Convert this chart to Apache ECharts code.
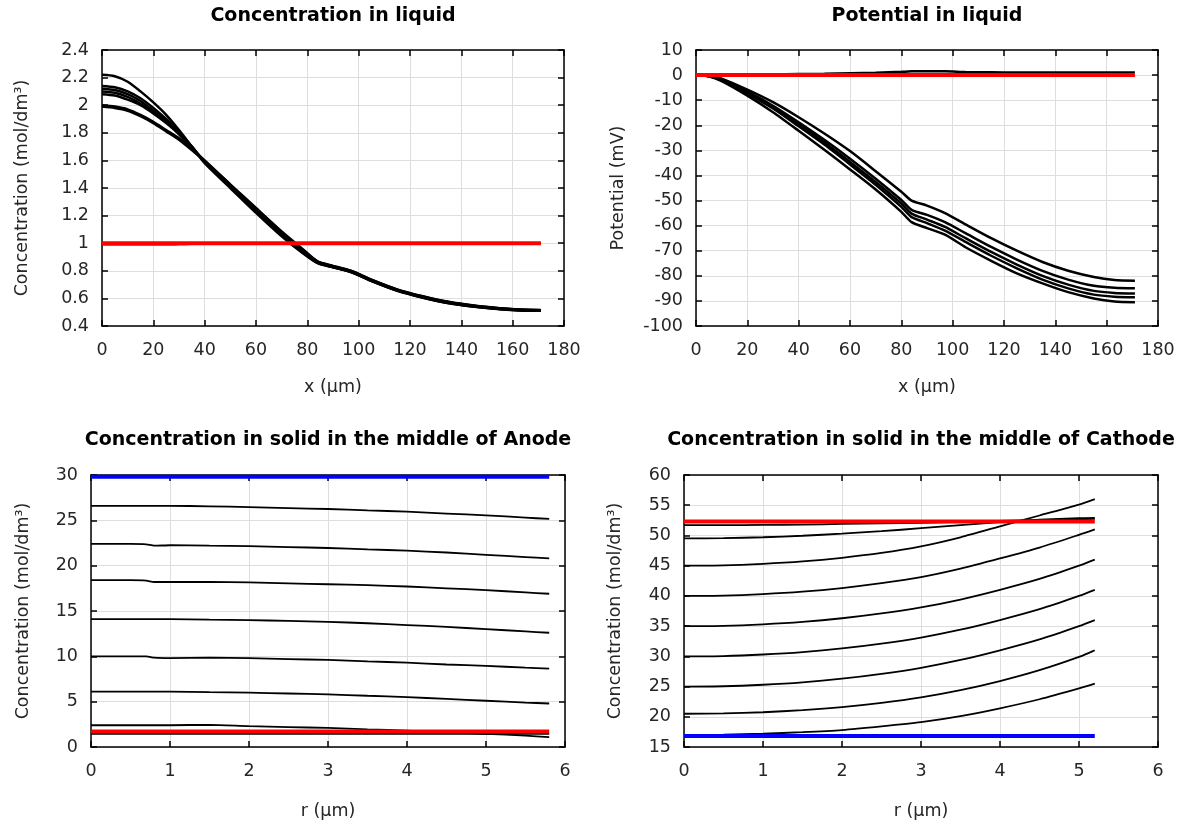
<!DOCTYPE html>
<html><head><meta charset="utf-8">
<script src="https://cdn.jsdelivr.net/npm/echarts@6/dist/echarts.min.js"></script>
<style>html,body{margin:0;padding:0;background:#fff}#c{width:1183px;height:829px}</style>
</head><body><div id="c"></div>
<script>
// ---------- titles / axis names ----------
const titles = ['Concentration in liquid', 'Potential in liquid',
  'Concentration in solid in the middle of Anode', 'Concentration in solid in the middle of Cathode'];
const xNames = ['x (µm)', 'x (µm)', 'r (µm)', 'r (µm)'];
const yNames = ['Concentration (mol/dm³)', 'Potential (mV)', 'Concentration (mol/dm³)', 'Concentration (mol/dm³)'];

// ---------- Concentration in liquid ----------
const xLiquid = [0, 5, 10, 15, 20, 25, 30, 35, 40, 50, 60, 70, 78, 84, 90, 97, 105, 115, 125, 135, 145, 155, 163, 171];
const concLiq1 = [2.22, 2.21, 2.17, 2.10, 2.02, 1.93, 1.82, 1.70, 1.58, 1.40, 1.22, 1.05, 0.93, 0.855, 0.825, 0.79, 0.725, 0.655, 0.605, 0.565, 0.54, 0.522, 0.513, 0.51];
const concLiq2 = [2.14, 2.13, 2.10, 2.05, 1.98, 1.90, 1.81, 1.70, 1.59, 1.41, 1.23, 1.06, 0.935, 0.857, 0.826, 0.791, 0.727, 0.657, 0.607, 0.567, 0.541, 0.523, 0.514, 0.511];
const concLiq3 = [2.12, 2.11, 2.08, 2.03, 1.96, 1.89, 1.80, 1.70, 1.59, 1.41, 1.235, 1.065, 0.94, 0.86, 0.828, 0.793, 0.728, 0.658, 0.608, 0.568, 0.542, 0.524, 0.515, 0.512];
const concLiq4 = [2.10, 2.09, 2.06, 2.01, 1.95, 1.88, 1.79, 1.69, 1.59, 1.415, 1.24, 1.07, 0.945, 0.862, 0.83, 0.795, 0.73, 0.66, 0.61, 0.57, 0.543, 0.525, 0.516, 0.513];
const concLiq5 = [2.08, 2.07, 2.04, 2.00, 1.94, 1.87, 1.79, 1.69, 1.595, 1.42, 1.245, 1.075, 0.95, 0.864, 0.832, 0.797, 0.732, 0.662, 0.612, 0.572, 0.545, 0.527, 0.517, 0.514];
const concLiq6 = [2.00, 1.99, 1.97, 1.93, 1.88, 1.82, 1.76, 1.68, 1.60, 1.425, 1.25, 1.08, 0.955, 0.866, 0.834, 0.799, 0.734, 0.664, 0.614, 0.574, 0.547, 0.528, 0.518, 0.515];
const concLiq7 = [1.99, 1.98, 1.96, 1.92, 1.87, 1.81, 1.75, 1.675, 1.595, 1.425, 1.255, 1.085, 0.96, 0.868, 0.836, 0.80, 0.735, 0.665, 0.615, 0.575, 0.548, 0.529, 0.519, 0.516];
const concLiqInit = [0.99, 0.99, 0.99, 0.99, 0.99, 0.99, 0.992, 0.994, 0.995, 0.997, 0.998, 1.0, 1.0, 1.0, 1.0, 1.0, 1.0, 1.0, 1.0, 1.0, 1.0, 1.0, 1.0, 1.0];
const xLiquidEnds = [0, 171];
const concLiqRed = [1.0, 1.0];

// ---------- Potential in liquid ----------
const xPot = [0, 5, 10, 20, 30, 40, 50, 60, 70, 80, 84, 90, 97, 105, 115, 125, 135, 145, 155, 163, 171];
const pot1 = [0, -0.3, -1.4, -5.8, -10.8, -16.8, -23.3, -30.3, -38.3, -46.5, -50, -52, -55, -59.5, -65, -70, -74.5, -78, -80.5, -81.7, -82];
const pot2 = [0, -0.4, -1.8, -6.6, -12.2, -18.8, -25.8, -33.3, -41.3, -49.8, -53.7, -55.7, -58.6, -63, -68.5, -73.5, -78, -81.5, -84, -84.8, -85];
const pot3 = [0, -0.4, -2, -7, -12.8, -19.6, -26.8, -34.6, -42.6, -51.2, -55.2, -57.6, -60.5, -65, -70.5, -75.5, -80, -83.5, -86, -86.8, -87];
const pot4 = [0, -0.5, -2.1, -7.4, -13.3, -20.4, -27.7, -35.6, -43.7, -52.5, -56.6, -59, -62, -66.5, -72, -77, -81.5, -85, -87.5, -88.3, -88.5];
const pot5 = [0, -0.5, -2.4, -8.2, -14.8, -22.2, -29.8, -37.6, -45.6, -54.5, -58.6, -61, -63.6, -68.6, -74, -79, -83, -86.5, -89, -90.2, -90.5];
const potNearZero = [0, 0.05, 0.1, 0.2, 0.3, 0.4, 0.5, 0.7, 0.9, 1.3, 1.5, 1.5, 1.5, 1.2, 1.1, 1.0, 1.0, 1.0, 1.0, 1.0, 1.0];
const potRed = [0, 0];

// ---------- Anode solid ----------
const rAnode = [0, 0.5, 0.7, 0.8, 1.0, 1.5, 2.0, 2.5, 3.0, 3.5, 4.0, 4.5, 5.0, 5.5, 5.8];
const anode1 = [26.6, 26.6, 26.6, 26.6, 26.6, 26.55, 26.45, 26.35, 26.25, 26.1, 25.95, 25.75, 25.55, 25.3, 25.15];
const anode2 = [22.4, 22.4, 22.35, 22.2, 22.25, 22.2, 22.15, 22.05, 21.95, 21.8, 21.65, 21.45, 21.2, 20.95, 20.8];
const anode3 = [18.4, 18.4, 18.35, 18.2, 18.2, 18.2, 18.15, 18.05, 17.95, 17.85, 17.7, 17.5, 17.3, 17.05, 16.9];
const anode4 = [14.1, 14.1, 14.1, 14.1, 14.1, 14.05, 14.0, 13.9, 13.8, 13.65, 13.45, 13.25, 13.0, 12.75, 12.6];
const anode5 = [10.0, 10.0, 10.0, 9.85, 9.8, 9.85, 9.8, 9.7, 9.6, 9.45, 9.3, 9.1, 8.95, 8.75, 8.65];
const anode6 = [6.1, 6.1, 6.1, 6.1, 6.1, 6.05, 6.0, 5.9, 5.8, 5.65, 5.5, 5.3, 5.1, 4.9, 4.8];
const anode7 = [2.4, 2.4, 2.4, 2.4, 2.4, 2.45, 2.3, 2.2, 2.1, 1.95, 1.8, 1.6, 1.45, 1.25, 1.1];
const anode8 = [1.45, 1.45, 1.45, 1.45, 1.45, 1.45, 1.45, 1.45, 1.45, 1.45, 1.45, 1.45, 1.45, 1.45, 1.45];
const rAnodeEnds = [0, 5.8];
const anodeBlue = [29.8, 29.8];
const anodeRed = [1.7, 1.7];

// ---------- Cathode solid ----------
const rCathode = [0, 0.5, 1, 1.5, 2, 2.5, 3, 3.5, 4, 4.5, 5, 5.2];
const cath1 = [17.0, 17.05, 17.2, 17.45, 17.8, 18.4, 19.1, 20.1, 21.4, 22.9, 24.7, 25.5];
const cath2 = [20.5, 20.55, 20.75, 21.1, 21.6, 22.3, 23.2, 24.4, 25.9, 27.7, 29.9, 31.0];
const cath3 = [25.0, 25.05, 25.3, 25.7, 26.3, 27.1, 28.1, 29.4, 31.0, 32.8, 35.0, 36.0];
const cath4 = [30.0, 30.05, 30.3, 30.7, 31.3, 32.1, 33.1, 34.4, 36.0, 37.8, 40.0, 41.0];
const cath5 = [35.0, 35.05, 35.3, 35.7, 36.3, 37.1, 38.1, 39.4, 41.0, 42.8, 45.0, 46.0];
const cath6 = [40.0, 40.05, 40.3, 40.7, 41.3, 42.1, 43.1, 44.5, 46.2, 48.0, 50.1, 51.0];
const cath7 = [45.0, 45.05, 45.3, 45.7, 46.3, 47.1, 48.2, 49.7, 51.5, 53.3, 55.1, 56.0];
const cath8 = [49.5, 49.55, 49.7, 49.95, 50.3, 50.7, 51.2, 51.7, 52.2, 52.6, 52.85, 52.9];
const cath9 = [51.7, 51.7, 51.75, 51.8, 51.9, 52.0, 52.1, 52.25, 52.4, 52.55, 52.7, 52.75];
const rCathodeEnds = [0, 5.2];
const cathBlue = [16.8, 16.8];
const cathRed = [52.3, 52.3];

// ---------- axis ranges ----------
const xRanges = [[0, 180, 20], [0, 180, 20], [0, 6, 1], [0, 6, 1]];
const yRanges = [[0.4, 2.4, 0.2], [-100, 10, 10], [0, 30, 5], [15, 60, 5]];

// ---------- build ----------
const FONT = 'DejaVu Sans';
const TXT = '#262626';
const gridBoxes = [
  {left: 102, top: 50, width: 462, height: 276},
  {left: 696, top: 50, width: 462, height: 276},
  {left: 91, top: 475, width: 474, height: 272},
  {left: 684, top: 475, width: 474, height: 272}
];
const titlePos = [[333, 16], [927, 16], [328, 440], [921, 440]];
const xNameGap = [52, 52, 55, 55];
const yNameGap = [71, 69, 59, 60];

const lineAxis = {show: true, onZero: false, lineStyle: {color: '#000', width: 1.5}};
const tickStyle = {show: true, inside: true, length: 6, lineStyle: {color: '#000', width: 1.5}};
const labelStyle = {color: TXT, fontFamily: FONT, fontSize: 17.5};
const nameStyle = {color: TXT, fontFamily: FONT, fontSize: 17.5};
const splitStyle = {show: true, lineStyle: {color: '#dedede', width: 1}};

const xAxes = [], yAxes = [];
for (let g = 0; g < 4; g++) {
  const [x0, x1, xi] = xRanges[g];
  const [y0, y1, yi] = yRanges[g];
  xAxes.push({type: 'value', gridIndex: g, min: x0, max: x1, interval: xi, position: 'bottom',
    name: xNames[g], nameLocation: 'middle', nameGap: xNameGap[g], nameTextStyle: nameStyle,
    axisLine: lineAxis, axisTick: tickStyle, axisLabel: Object.assign({margin: 15}, labelStyle), splitLine: splitStyle});
  xAxes.push({type: 'value', gridIndex: g, min: x0, max: x1, interval: xi, position: 'top',
    axisLine: lineAxis, axisTick: tickStyle, axisLabel: {show: false}, splitLine: {show: false}});
  yAxes.push({type: 'value', gridIndex: g, min: y0, max: y1, interval: yi, position: 'left',
    name: yNames[g], nameLocation: 'middle', nameGap: yNameGap[g], nameRotate: 90, nameTextStyle: nameStyle,
    axisLine: lineAxis, axisTick: tickStyle, axisLabel: Object.assign({margin: 13}, labelStyle), splitLine: splitStyle});
  yAxes.push({type: 'value', gridIndex: g, min: y0, max: y1, interval: yi, position: 'right',
    axisLine: lineAxis, axisTick: tickStyle, axisLabel: {show: false}, splitLine: {show: false}});
}

function pairs(xs, ys) { return xs.map((x, i) => [x, ys[i]]); }
function line(g, xs, ys, color, width, z) {
  return {type: 'line', xAxisIndex: 2 * g, yAxisIndex: 2 * g, data: pairs(xs, ys),
    showSymbol: false, symbol: 'none', smooth: 0.25, lineStyle: {color: color, width: width},
    z: z || 2, silent: true, animation: false};
}

const series = [];
[concLiq1, concLiq2, concLiq3, concLiq4, concLiq5, concLiq6, concLiq7].forEach(a => series.push(line(0, xLiquid, a, '#000', 2.5)));
series.push(line(0, xLiquid, concLiqInit, '#000', 2));
series.push(line(0, xLiquidEnds, concLiqRed, '#ff0000', 4, 5));

series.push(line(1, xPot, potNearZero, '#000', 2.5));
[pot1, pot2, pot3, pot4, pot5].forEach(a => series.push(line(1, xPot, a, '#000', 2.5)));
series.push(line(1, xLiquidEnds, potRed, '#ff0000', 4, 5));

[anode1, anode2, anode3, anode4, anode5, anode6, anode7, anode8].forEach(a => series.push(line(2, rAnode, a, '#000', 1.8)));
series.push(line(2, rAnodeEnds, anodeBlue, '#0000ff', 4, 5));
series.push(line(2, rAnodeEnds, anodeRed, '#ff0000', 4, 5));

[cath1, cath2, cath3, cath4, cath5, cath6, cath7, cath8, cath9].forEach(a => series.push(line(3, rCathode, a, '#000', 1.8)));
series.push(line(3, rCathodeEnds, cathBlue, '#0000ff', 4, 5));
series.push(line(3, rCathodeEnds, cathRed, '#ff0000', 4, 5));

const graphics = titles.map((t, i) => ({
  type: 'text', x: titlePos[i][0], y: titlePos[i][1],
  style: {text: t, fill: '#000', fontFamily: FONT, fontSize: 19, fontWeight: 'bold', align: 'center', verticalAlign: 'middle'}
}));

const chart = echarts.init(document.getElementById('c'), null, {renderer: 'canvas'});
chart.setOption({
  animation: false,
  backgroundColor: '#fff',
  grid: gridBoxes,
  xAxis: xAxes,
  yAxis: yAxes,
  series: series,
  graphic: graphics
});
</script>
</body></html>
